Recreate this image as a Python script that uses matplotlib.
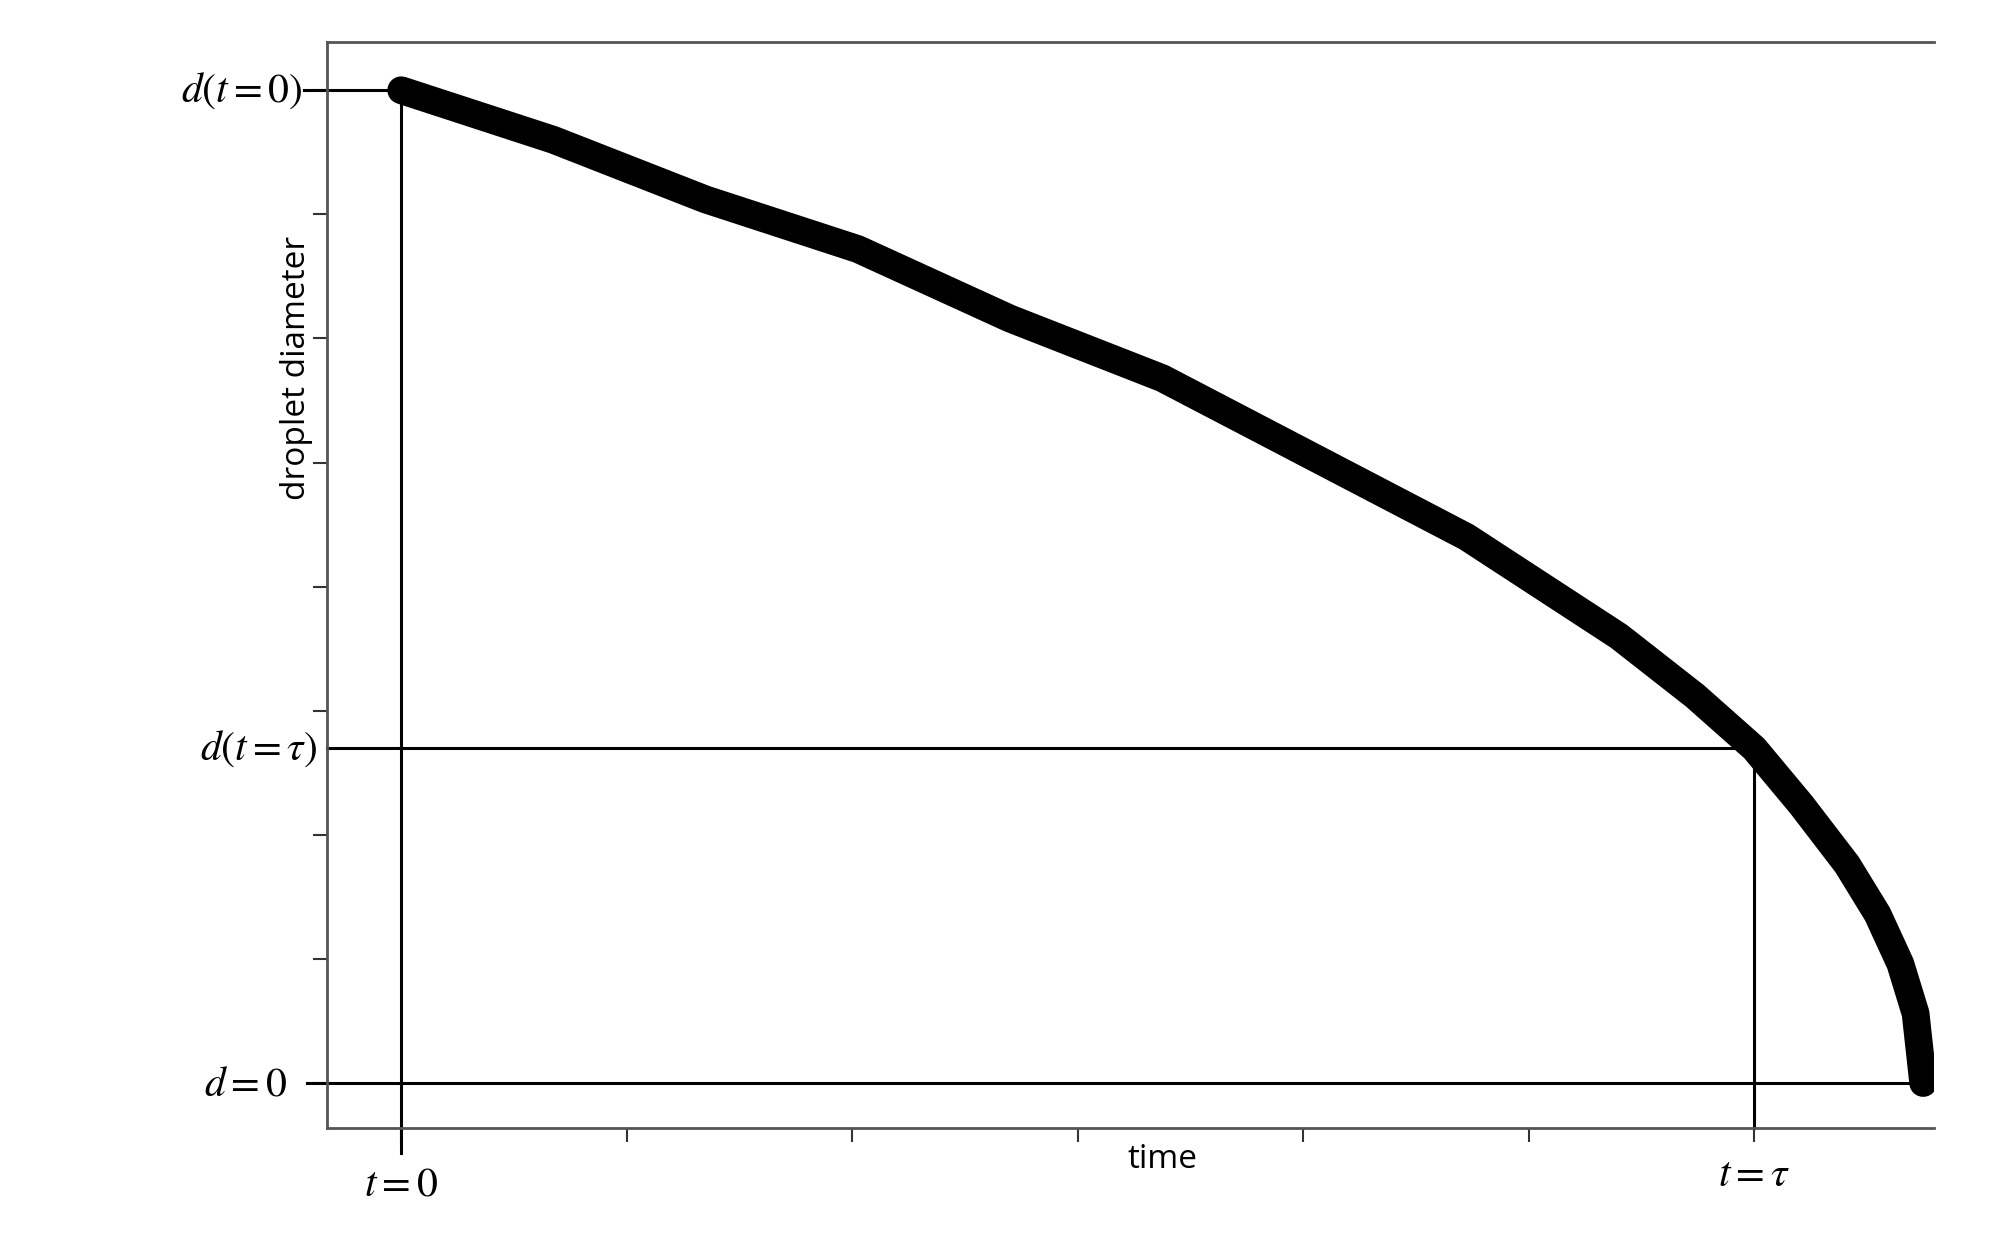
import matplotlib.pyplot as plt

plt.rcParams['mathtext.fontset'] = 'stix'

time = [0.0, 0.1, 0.2, 0.3, 0.4, 0.5, 0.6, 0.7, 0.8, 0.85, 0.889, 0.92, 0.95, 0.97, 0.985, 0.995, 1.0]
diameter = [1.0, 0.95, 0.89, 0.84, 0.77, 0.71, 0.63, 0.55, 0.45, 0.39, 0.337, 0.28, 0.22, 0.17, 0.12, 0.07, 0.0]

tau = 0.889
d_tau = 0.337
xticks = [tau * k / 6 for k in range(7)]
yticks = [k * 0.125 for k in range(9)]

fig = plt.figure(figsize=(20.04, 12.6), dpi=100)
ax = fig.add_axes([0.163, 0.105, 0.802, 0.862])

ax.plot(time, diameter, color='black', lw=20, solid_capstyle='round', solid_joinstyle='round', zorder=3)

# guide lines
ax.plot([-0.062, 1.0], [0, 0], color='black', lw=2.2, clip_on=False)
ax.plot([-0.049, tau], [d_tau, d_tau], color='black', lw=2.2, clip_on=False)
ax.plot([-0.064, 0], [1, 1], color='black', lw=2.2, clip_on=False)
ax.plot([0, 0], [1, -0.07], color='black', lw=2.2, clip_on=False)
ax.plot([tau, tau], [d_tau, -0.045], color='black', lw=2.2, clip_on=False)

ax.set_xlim(-0.049, 1.007)
ax.set_ylim(-0.045, 1.049)
ax.set_xticks(xticks)
ax.set_yticks(yticks)
ax.set_xticklabels([])
ax.set_yticklabels([])
ax.tick_params(direction='out', length=10, width=1.5, color='#333333')

for s in ['left', 'bottom', 'top']:
    ax.spines[s].set_color('#555555')
    ax.spines[s].set_linewidth(2)
ax.spines['right'].set_visible(False)

fs = 30
ax.text(-0.065, 1.0, r'$d(t=0)$', fontsize=fs, ha='right', va='center')
ax.text(-0.055, d_tau, r'$d(t=\tau)$', fontsize=fs, ha='right', va='center')
ax.text(-0.075, 0.0, r'$d=0$', fontsize=fs, ha='right', va='center')
ax.text(0.0, -0.08, r'$t=0$', fontsize=fs, ha='center', va='top')
ax.text(tau, -0.07, r'$t=\tau$', fontsize=fs, ha='center', va='top')
ax.text(0.5, -0.06, 'time', fontsize=24, family='Open Sans', ha='center', va='top')
ax.text(-0.058, 0.72, 'droplet diameter', fontsize=24, family='Open Sans',
        rotation=90, ha='right', va='center')

fig.savefig('out.png', dpi=100)
